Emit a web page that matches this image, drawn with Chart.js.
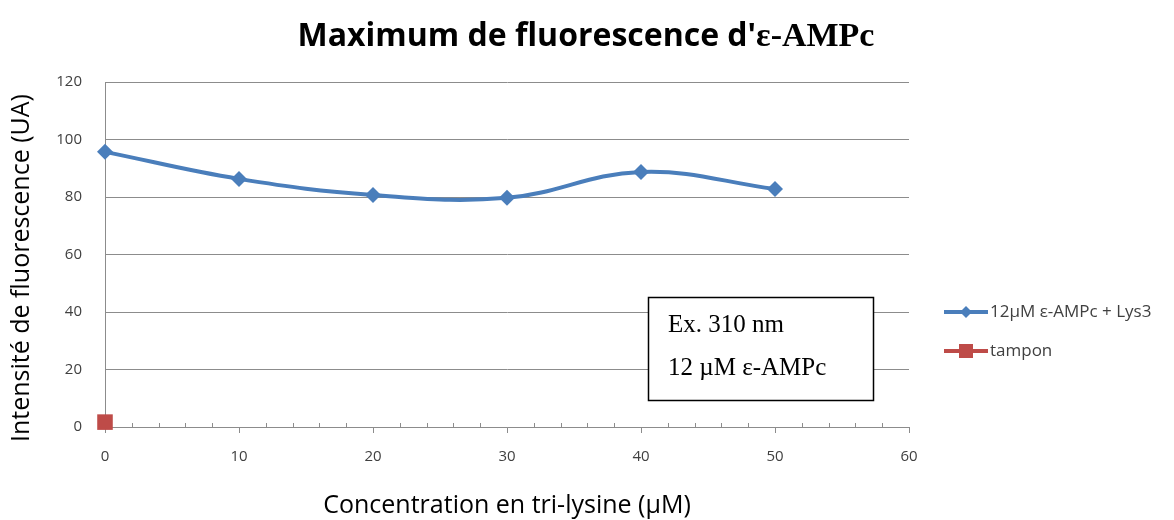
<!DOCTYPE html>
<html><head><meta charset="utf-8">
<script src="https://cdn.jsdelivr.net/npm/chart.js@4"></script>
<style>html,body{margin:0;padding:0;background:#fff}#wrap{width:1174px;height:520px}</style>
</head><body><div id="wrap"><canvas id="c" width="1174" height="520"></canvas></div>
<script>
const concentrations = [0, 10, 20, 30, 40, 50];
const lysValues = [95.7, 86.3, 80.7, 79.7, 88.7, 82.8];
const tamponX = [0];
const tamponValues = [1.7];
const yTicks = [0, 20, 40, 60, 80, 100, 120];
const xTicks = [0, 10, 20, 30, 40, 50, 60];
const seriesNames = ["12µM ε-AMPc + Lys3", "tampon"];
const titleParts = ["Maximum de fluorescence d'", "ε-AMPc"];
const xTitle = "Concentration en tri-lysine (µM)";
const yTitle = "Intensité de fluorescence (UA)";
const boxLines = ["Ex. 310 nm", "12 µM ε-AMPc"];

const BLUE = '#4A7EBB', RED = '#BE4B48', GRID = '#8c8c8c', TXT = '#404040';

const decor = {
  id: 'decor',
  afterDraw(chart) {
    const ctx = chart.ctx, xs = chart.scales.x, ca = chart.chartArea;
    ctx.save();
    ctx.strokeStyle = GRID; ctx.lineWidth = 1;
    for (let v = 0; v <= 60; v += 2) {
      if (v % 10 === 0) continue;
      const px = Math.round(xs.getPixelForValue(v)) + 0.5;
      ctx.beginPath(); ctx.moveTo(px, ca.bottom - 4); ctx.lineTo(px, ca.bottom); ctx.stroke();
    }
    // title
    ctx.fillStyle = '#000'; ctx.textBaseline = 'alphabetic';
    const f1 = 'bold 32px "Open Sans", sans-serif', f2 = 'bold 34px "Liberation Serif", serif';
    ctx.font = f1; const w1 = ctx.measureText(titleParts[0]).width;
    ctx.font = f2; const w2 = ctx.measureText(titleParts[1]).width;
    let tx = 586 - (w1 + w2) / 2;
    ctx.font = f1; ctx.textAlign = 'left'; ctx.fillText(titleParts[0], tx, 46);
    ctx.font = f2; ctx.fillText(titleParts[1], tx + w1, 46);
    // axis titles
    ctx.font = '25px "Open Sans", sans-serif'; ctx.textAlign = 'center'; ctx.textBaseline = 'middle';
    ctx.fillText(xTitle, 507, 506);
    ctx.save(); ctx.translate(22, 268); ctx.rotate(-Math.PI / 2); ctx.fillText(yTitle, 0, 0); ctx.restore();
    // annotation box
    ctx.fillStyle = '#fff'; ctx.fillRect(648, 297, 226, 104);
    ctx.strokeStyle = '#000'; ctx.lineWidth = 1.5; ctx.strokeRect(648.5, 297.5, 225, 103);
    ctx.fillStyle = '#000'; ctx.font = '25px "Liberation Serif", serif'; ctx.textAlign = 'left';
    ctx.fillText(boxLines[0], 668, 325);
    ctx.fillText(boxLines[1], 668, 368);
    // legend
    const ds = chart.data.datasets;
    const ly = [312, 351];
    ds.forEach((d, i) => {
      ctx.strokeStyle = d.borderColor; ctx.lineWidth = 4;
      ctx.beginPath(); ctx.moveTo(944, ly[i]); ctx.lineTo(988, ly[i]); ctx.stroke();
      ctx.fillStyle = d.backgroundColor;
      if (i === 0) {
        ctx.beginPath(); ctx.moveTo(966, ly[i] - 6); ctx.lineTo(972, ly[i]); ctx.lineTo(966, ly[i] + 6); ctx.lineTo(960, ly[i]); ctx.closePath(); ctx.fill();
      } else {
        ctx.fillRect(959, ly[i] - 7, 14, 14);
      }
      ctx.fillStyle = TXT; ctx.font = '17px "Open Sans", sans-serif'; ctx.textAlign = 'left';
      ctx.fillText(d.label, 990, ly[i]);
    });
    ctx.restore();
  }
};

new Chart(document.getElementById('c'), {
  type: 'line',
  data: {
    datasets: [
      { label: seriesNames[0], data: concentrations.map((x, i) => ({ x, y: lysValues[i] })),
        borderColor: BLUE, backgroundColor: BLUE, borderWidth: 4, tension: 0.4, clip: false,
        pointStyle: 'rectRot', pointRadius: 8, pointHoverRadius: 8, pointBorderWidth: 0 },
      { label: seriesNames[1], data: tamponX.map((x, i) => ({ x, y: tamponValues[i] })),
        borderColor: RED, backgroundColor: RED, borderWidth: 4, clip: false,
        pointStyle: 'rect', pointRadius: 11, pointHoverRadius: 11, pointBorderWidth: 0 }
    ]
  },
  options: {
    responsive: false, animation: false, devicePixelRatio: 1,
    layout: { padding: { left: 0, top: 82, right: 265, bottom: 0 } },
    plugins: { legend: { display: false }, title: { display: false }, tooltip: { enabled: false } },
    scales: {
      x: {
        type: 'linear', min: 0, max: 60,
        afterFit(s) { s.height = 93; },
        afterBuildTicks(s) { s.ticks = xTicks.map(v => ({ value: v })); },
        grid: { drawOnChartArea: false, drawTicks: true, tickLength: 6, color: GRID },
        border: { color: GRID, width: 1 },
        ticks: { color: TXT, font: { family: '"Open Sans", sans-serif', size: 15 }, padding: 15, maxRotation: 0 }
      },
      y: {
        min: 0, max: 120,
        afterFit(s) { s.width = 105; },
        afterBuildTicks(s) { s.ticks = yTicks.map(v => ({ value: v })); },
        grid: { color: GRID, drawTicks: false },
        border: { color: GRID, width: 1 },
        ticks: { color: TXT, font: { family: '"Open Sans", sans-serif', size: 15 }, padding: 23 }
      }
    }
  },
  plugins: [decor]
});
</script></body></html>
